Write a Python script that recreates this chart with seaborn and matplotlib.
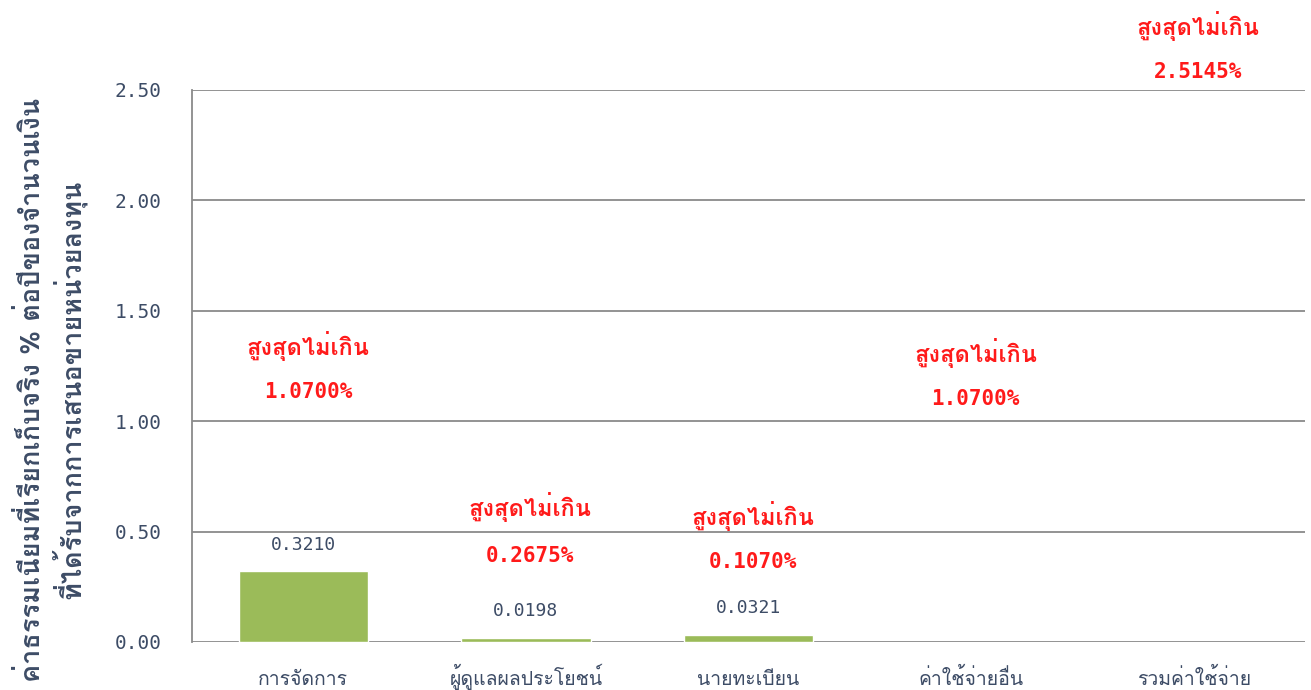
import numpy as np
import pandas as pd
import matplotlib
matplotlib.use("Agg")
import matplotlib.pyplot as plt
import seaborn as sns

# ========== ข้อมูล ==========
categories = ["การจัดการ", "ผู้ดูแลผลประโยชน์", "นายทะเบียน", "ค่าใช้จ่ายอื่น", "รวมค่าใช้จ่าย"]
actual_fee = [0.3210, 0.0198, 0.0321, np.nan, np.nan]
max_fee = ["1.0700%", "0.2675%", "0.1070%", "1.0700%", "2.5145%"]
max_word = "สูงสุดไม่เกิน"
yticks = [0.0, 0.5, 1.0, 1.5, 2.0, 2.5]
ylabel = "ค่าธรรมเนียมที่เรียกเก็บจริง % ต่อปีของจำนวนเงิน\nที่ได้รับจากการเสนอขายหน่วยลงทุน"

# ตำแหน่งข้อความสีแดง (แกน y)
word_y = [1.34, 0.61, 0.57, 1.31, 2.79]
pct_y = [1.13, 0.39, 0.36, 1.10, 2.58]

df = pd.DataFrame({"cat": categories, "fee": actual_fee})

sns.set_theme(style="white")
plt.rcParams["font.family"] = ["Loma", "DejaVu Sans"]

TXT = "#3d4c66"
RED = "#ff1a1a"
GRID = "#8a8a8a"
NUM = "DejaVu Sans Mono"

fig = plt.figure(figsize=(13.11, 6.9), dpi=100)
ax = fig.add_axes([0.1465, 0.0696, 0.849, 0.80])

sns.barplot(data=df, x="cat", y="fee", order=categories, color="#9bbb59",
            saturation=1, width=0.58, ax=ax)

ax.set_ylim(0, 2.5)
ax.set_yticks(yticks)
ax.set_yticklabels([f"{v:.2f}" for v in yticks], family=NUM,
                   fontsize=14, color=TXT)
ax.yaxis.grid(True, color=GRID, linewidth=1.3)
ax.set_axisbelow(True)
for s in ["top", "right", "bottom"]:
    ax.spines[s].set_visible(False)
ax.spines["left"].set_color(GRID)
ax.spines["left"].set_linewidth(1.3)
ax.tick_params(axis="y", length=0, pad=22)
ax.tick_params(axis="x", length=0, labelsize=14, labelcolor=TXT, pad=31)
# ให้ป้ายแกน x อยู่บนเส้นฐานเดียวกัน
for lbl in ax.get_xticklabels():
    lbl.set_verticalalignment("baseline")

ax.set_xlabel("")
ax.set_ylabel(ylabel, fontsize=19.5, fontweight="bold", color=TXT,
              linespacing=1.25)
ax.yaxis.set_label_coords(-0.094, 0.457)

# ค่าที่เรียกเก็บจริง
for i, v in enumerate(actual_fee):
    if np.isnan(v):
        continue
    ax.text(i, v + 0.12, f"{v:.4f}", ha="center", va="center", fontsize=13,
            color=TXT, family=NUM)

# ค่าสูงสุด
for i, p in enumerate(max_fee):
    ax.text(i + 0.02, word_y[i], max_word, ha="center", va="center",
            fontsize=17, fontweight="bold", color=RED, clip_on=False)
    ax.text(i + 0.02, pct_y[i], p, ha="center", va="center", fontsize=15,
            fontweight="bold", color=RED, family=NUM, clip_on=False)

fig.savefig("out.png", dpi=100)
